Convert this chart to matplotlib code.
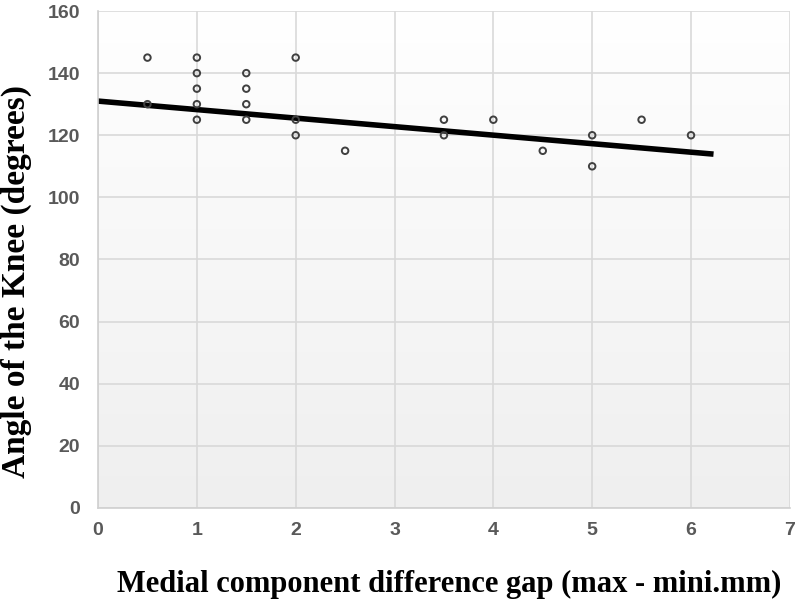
import matplotlib.pyplot as plt
import numpy as np

# scatter data (gap in mm, knee angle in degrees)
gap = [0.5, 0.5, 1, 1, 1, 1, 1, 1.5, 1.5, 1.5, 1.5, 2, 2, 2, 2.5,
       3.5, 3.5, 4, 4.5, 5, 5, 5.5, 6]
angle = [145, 130, 145, 140, 135, 130, 125, 140, 135, 130, 125, 145, 125, 120, 115,
         125, 120, 125, 115, 120, 110, 125, 120]

# trend line end points
trend_x = [0, 6.2]
trend_y = [131, 114]

xticks = [0, 1, 2, 3, 4, 5, 6, 7]
yticks = [0, 20, 40, 60, 80, 100, 120, 140, 160]

fig = plt.figure(figsize=(7.97, 6.12), dpi=100)
ax = fig.add_axes([0.123, 0.170, 0.868, 0.812])

# gradient background, white at top to light grey at bottom
grad = np.linspace(0, 1, 256).reshape(-1, 1)
ax.imshow(grad, extent=[0, 7, 0, 160], aspect="auto", origin="lower",
          cmap=plt.matplotlib.colors.LinearSegmentedColormap.from_list(
              "bg", ["#efefef", "#ffffff"]), zorder=0)

ax.set_xlim(0, 7)
ax.set_ylim(0, 160)
ax.set_xticks(xticks)
ax.set_yticks(yticks)
ax.grid(True, color="#d9d9d9", linewidth=1.2, zorder=1)
ax.set_axisbelow(True)

ax.plot(trend_x, trend_y, color="black", linewidth=4, zorder=2)
ax.scatter(gap, angle, s=22, facecolors="none", edgecolors="#404040",
           linewidths=1.4, zorder=3)

for side in ["top", "right"]:
    ax.spines[side].set_visible(False)
for side in ["left", "bottom"]:
    ax.spines[side].set_color("#d0d0d0")
    ax.spines[side].set_linewidth(1.2)

ax.tick_params(length=0, labelsize=14, labelcolor="#595959")
ax.tick_params(axis="y", pad=13)
ax.tick_params(axis="x", pad=10)
for lab in ax.get_xticklabels() + ax.get_yticklabels():
    lab.set_fontweight("bold")
    lab.set_family("Liberation Sans")

fig.text(449 / 797, 1 - 584 / 612, "Medial component difference gap (max - mini.mm)",
         family="Liberation Serif", fontweight="bold", fontsize=22,
         ha="center", va="center")
fig.text(16 / 797, 1 - 282 / 612, "Angle of the Knee (degrees)",
         family="Liberation Serif", fontweight="bold", fontsize=24,
         rotation=90, ha="center", va="center")

fig.savefig("out.png", dpi=100)
